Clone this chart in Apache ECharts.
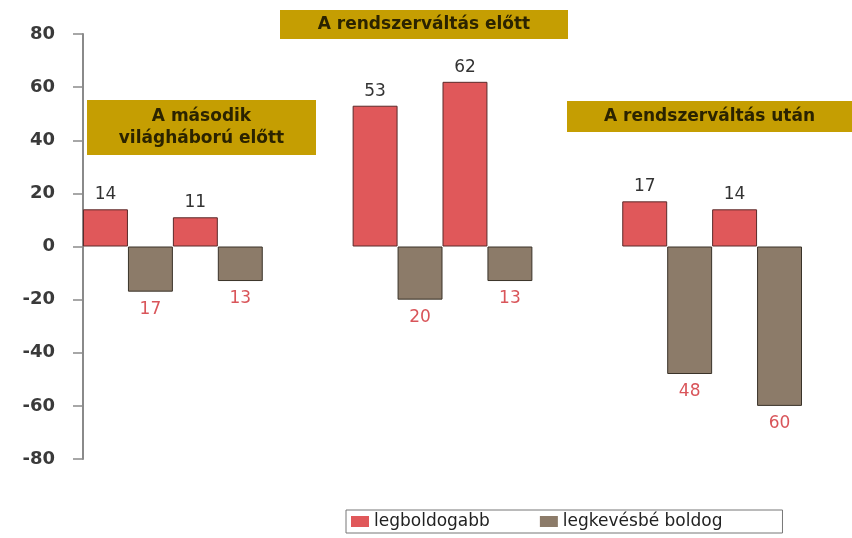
<!DOCTYPE html>
<html>
<head>
<meta charset="utf-8">
<script src="https://cdn.jsdelivr.net/npm/echarts@6/dist/echarts.min.js"></script>
<style>
html, body { margin: 0; padding: 0; background: #fff; }
#chart { width: 852px; height: 538px; }
</style>
</head>
<body>
<div id="chart"></div>
<script>
// periods (group titles)
var groups = ['A második\nvilágháború előtt', 'A rendszerváltás előtt', 'A rendszerváltás után']
// two bars of each kind per group
var happiest = [[14, 11], [53, 62], [17, 14]]
var leastHappy = [[-17, -13], [-20, -13], [-48, -60]]
var seriesNames = ['legboldogabb', 'legkevésbé boldog']
var yTicks = [-80, -60, -40, -20, 0, 20, 40, 60, 80]

// each group takes 4 slots, 2 empty slots between groups
var slots = []
var redData = []
var brownData = []
for (var g = 0; g < groups.length; g++) {
    for (var k = 0; k < 2; k++) {
        slots.push('')
        redData.push(happiest[g][k])
        brownData.push('-')
        slots.push('')
        redData.push('-')
        brownData.push(leastHappy[g][k])
    }
    if (g < groups.length - 1) {
        slots.push('', '')
        redData.push('-', '-')
        brownData.push('-', '-')
    }
}

var boxColor = '#c59e02'
var boxText = '#2b2300'
function box(x, y, w, h, text) {
    return {
        type: 'group',
        children: [
            { type: 'rect', shape: { x: x, y: y, width: w, height: h }, style: { fill: boxColor } },
            {
                type: 'text', x: x + w / 2, y: y + h / 2,
                style: {
                    text: text, fill: boxText, align: 'center', verticalAlign: 'middle',
                    font: 'bold 17px "DejaVu Sans"', lineHeight: 22
                }
            }
        ]
    }
}

var chart = echarts.init(document.getElementById('chart'))
chart.setOption({
    animation: false,
    grid: { left: 83, right: 50, top: 34, bottom: 79 },
    legend: {
        data: seriesNames,
        icon: 'rect',
        left: 346, top: 510,
        itemWidth: 18, itemHeight: 11, itemGap: 50,
        itemStyle: { borderWidth: 0 },
        borderColor: '#777', borderWidth: 1,
        padding: [3, 60, 3, 5],
        textStyle: { fontFamily: 'DejaVu Sans', fontSize: 17, color: '#222' }
    },
    xAxis: {
        type: 'category',
        data: slots,
        show: false
    },
    yAxis: {
        type: 'value',
        min: -80, max: 80, interval: 20,
        axisLine: { show: true, lineStyle: { color: '#8a8a8a', width: 2 } },
        axisTick: { show: true, length: 10, lineStyle: { color: '#8a8a8a', width: 1.5 } },
        splitLine: { show: false },
        axisLabel: {
            margin: 28,
            fontFamily: 'DejaVu Sans', fontWeight: 'bold', fontSize: 18, color: '#3a3a3a',
            customValues: yTicks
        }
    },
    series: [
        {
            name: seriesNames[0], type: 'bar', stack: 'all', barWidth: '100%',
            data: redData,
            itemStyle: { color: '#e0585a', borderColor: '#5a2a2a', borderWidth: 1 },
            label: {
                show: true, position: 'top', distance: 6,
                fontFamily: 'DejaVu Sans', fontSize: 17, color: '#333'
            }
        },
        {
            name: seriesNames[1], type: 'bar', stack: 'all', barWidth: '100%',
            data: brownData,
            itemStyle: { color: '#8c7b69', borderColor: '#3a3329', borderWidth: 1 },
            label: {
                show: true, position: 'bottom', distance: 9,
                fontFamily: 'DejaVu Sans', fontSize: 17, color: '#d9555a',
                formatter: function (p) { return Math.abs(p.value) }
            }
        }
    ],
    graphic: [
        box(87, 100, 229, 55, groups[0]),
        box(280, 10, 288, 29, groups[1]),
        box(567, 101, 285, 31, groups[2])
    ]
})
</script>
</body>
</html>
